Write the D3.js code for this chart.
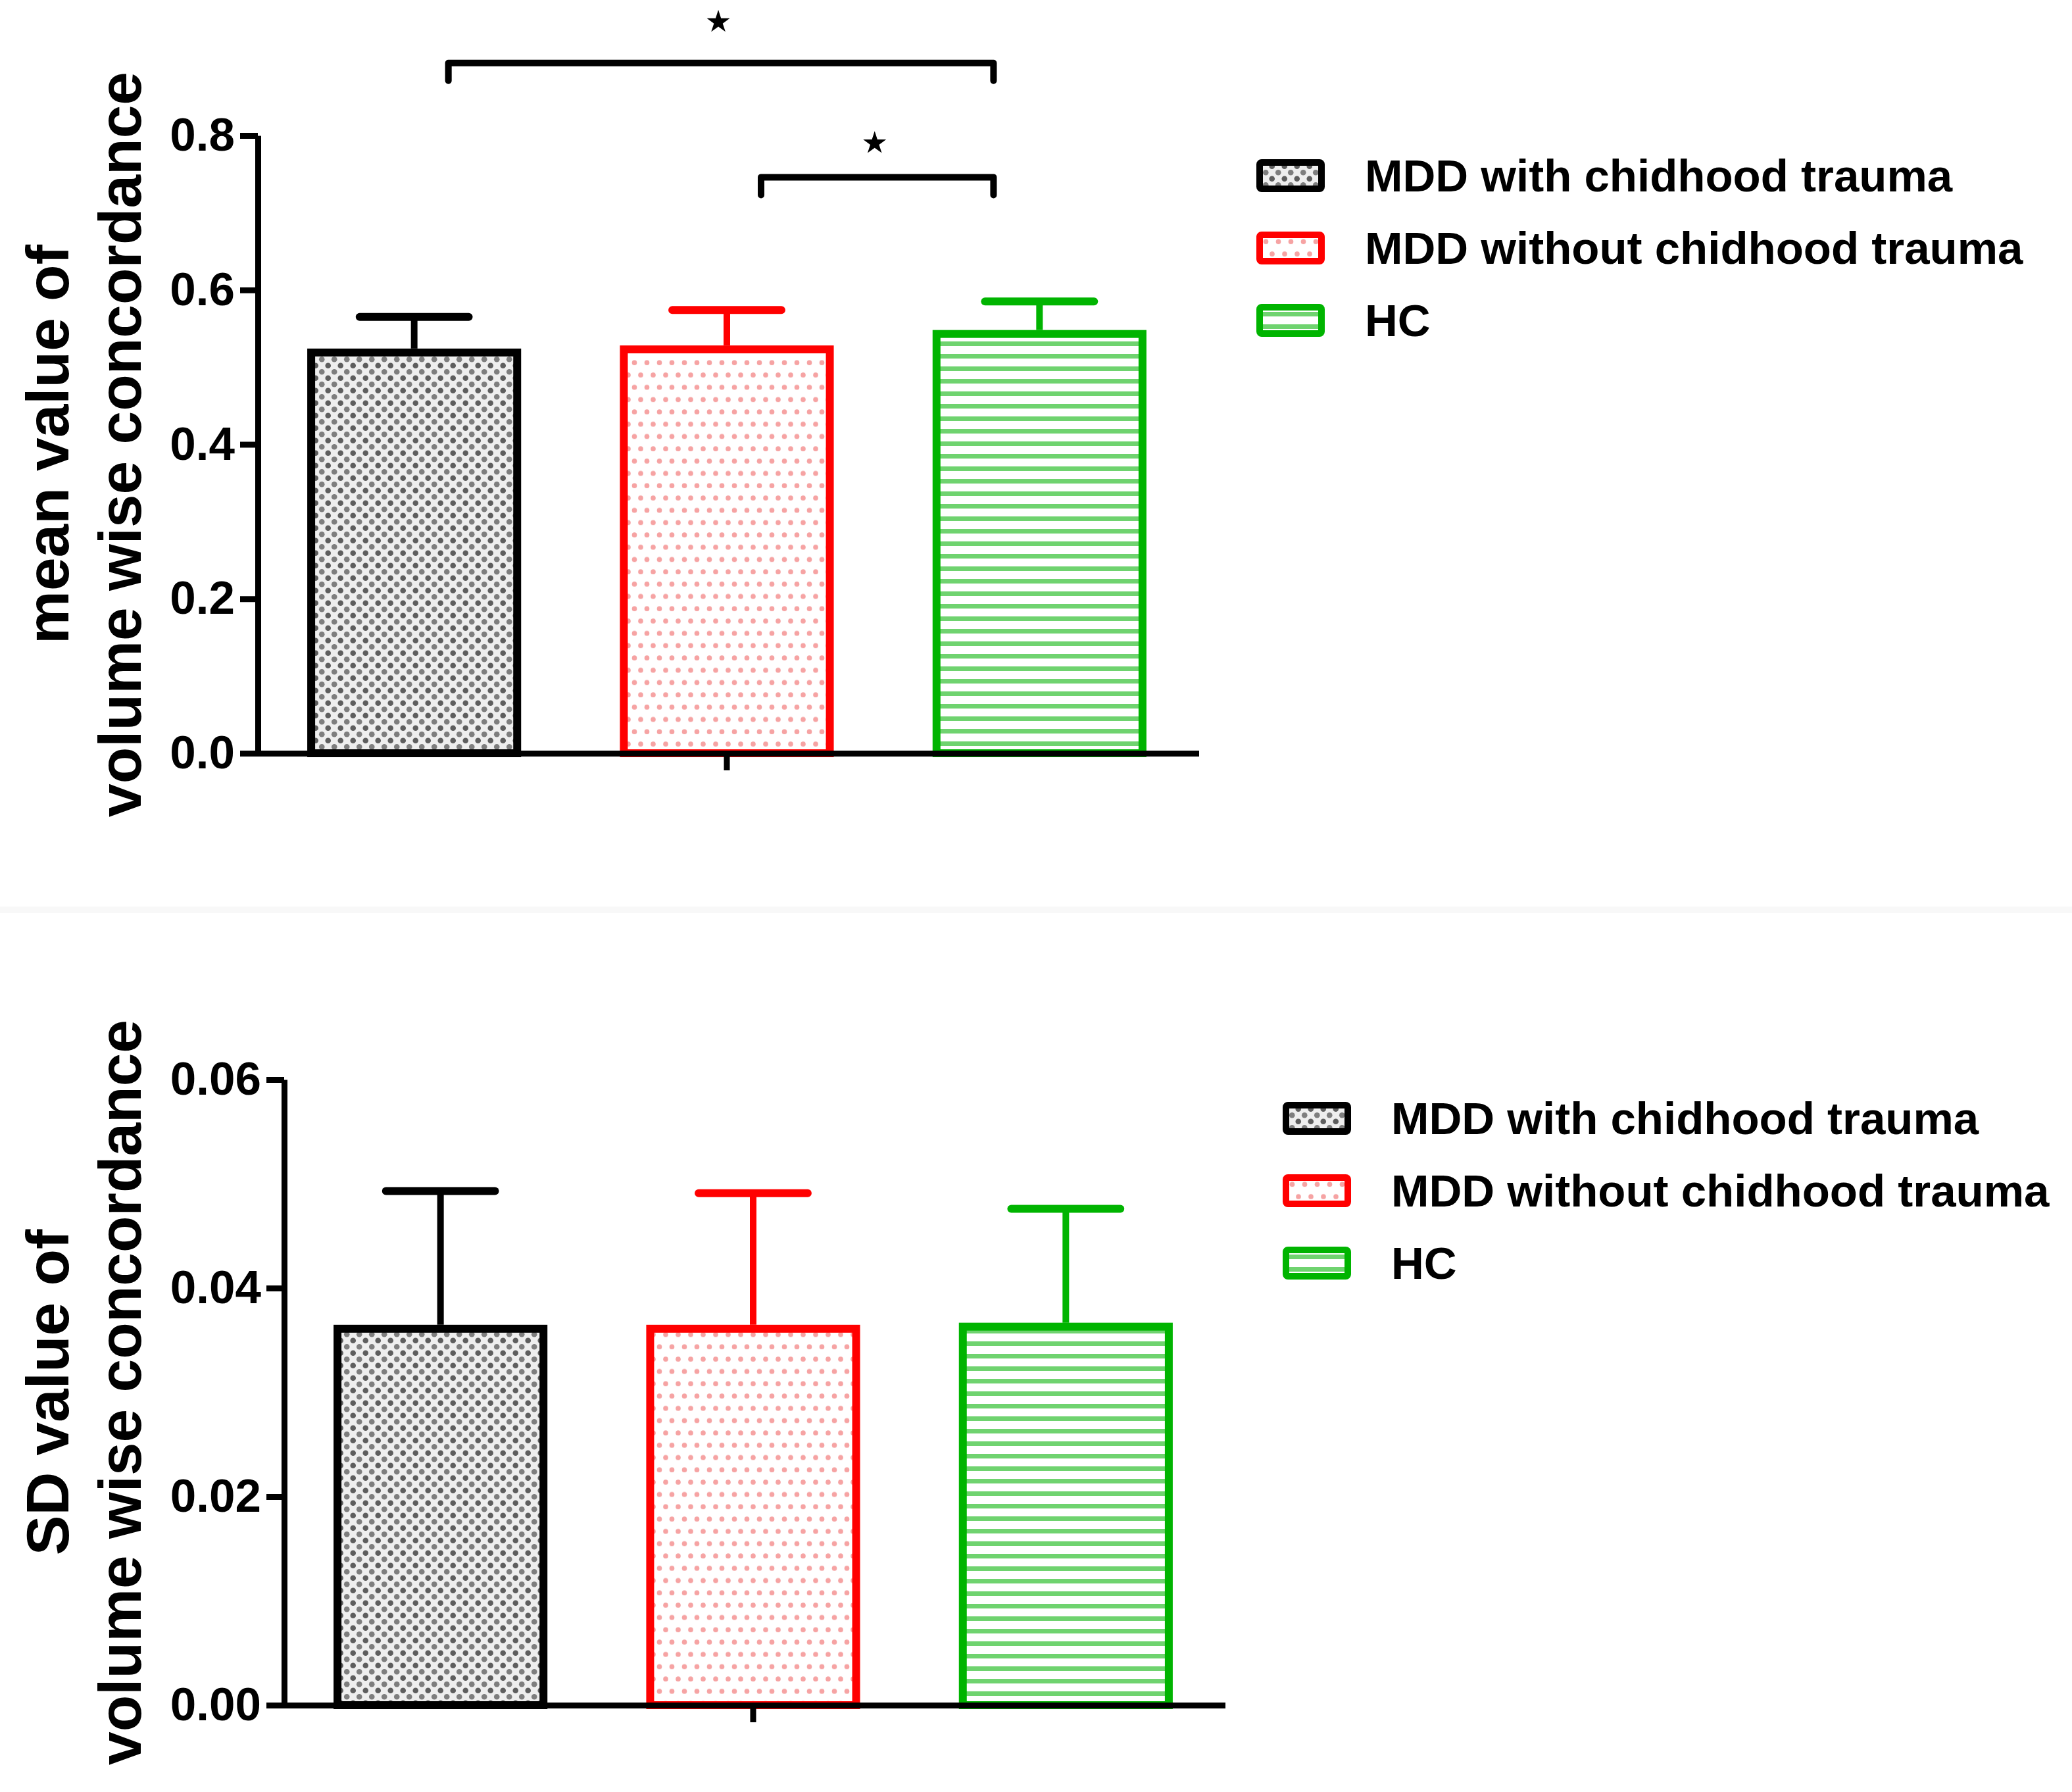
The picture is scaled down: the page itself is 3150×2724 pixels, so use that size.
<!DOCTYPE html>
<html lang="en">
  <head>
    <meta charset="utf-8">
    <title>Volume wise concordance</title>
    <script src="https://d3js.org/d3.v7.min.js"></script>
    <style>
      body { margin: 0; background: white; }
      text { font-family: "Liberation Sans", Arial, sans-serif; font-weight: bold; fill: black; }
    </style>
  </head>
  <body>
    <script type="text/javascript">

      // data
      var groups = ["MDD with chidhood trauma", "MDD without chidhood trauma", "HC"];
      var meanValues = [0.519, 0.523, 0.543];
      var meanErrors = [0.046, 0.051, 0.042];
      var sdValues = [0.0361, 0.0361, 0.0363];
      var sdErrors = [0.0132, 0.0130, 0.0113];
      var meanTicks = [0, 0.2, 0.4, 0.6, 0.8];
      var sdTicks = [0, 0.02, 0.04, 0.06];
      var meanLabel = ["mean value of", "volume wise concordance"];
      var sdLabel = ["SD value of", "volume wise concordance"];
      // significance brackets: group index from / to, bracket height, star height
      var sigFrom = [0, 1];
      var sigTo = [2, 2];
      var sigLevel = [0.894, 0.746];
      var sigStar = [0.947, 0.790];

      var colors = ["#000000", "#ff0000", "#00b400"];
      var fills = ["url(#dotsGray)", "url(#dotsPink)", "url(#stripesGreen)"];

      var w = 3150;
      var h = 2724;

      var svg = d3.select("body")
        .append("svg")
          .attr("width", w)
          .attr("height", h);

      var defs = svg.append("defs");

      var pg = defs.append("pattern")
          .attr("id", "dotsGray")
          .attr("patternUnits", "userSpaceOnUse")
          .attr("width", 19)
          .attr("height", 19);
      pg.append("rect").attr("width", 19).attr("height", 19).attr("fill", "#eeeeee");
      pg.append("circle").attr("cx", 4.75).attr("cy", 4.75).attr("r", 4.3).attr("fill", "#5e5e5e");
      pg.append("circle").attr("cx", 14.25).attr("cy", 14.25).attr("r", 4.3).attr("fill", "#7e7e7e");

      var pp = defs.append("pattern")
          .attr("id", "dotsPink")
          .attr("patternUnits", "userSpaceOnUse")
          .attr("width", 19)
          .attr("height", 37.4);
      pp.append("rect").attr("width", 19).attr("height", 37.4).attr("fill", "white");
      pp.append("circle").attr("cx", 5).attr("cy", 9).attr("r", 3.8).attr("fill", "#f6a3a3");
      pp.append("circle").attr("cx", 14.5).attr("cy", 27.7).attr("r", 3.8).attr("fill", "#f6a3a3");

      var ps = defs.append("pattern")
          .attr("id", "stripesGreen")
          .attr("patternUnits", "userSpaceOnUse")
          .attr("width", 19)
          .attr("height", 19);
      ps.append("rect").attr("width", 19).attr("height", 19).attr("fill", "white");
      ps.append("rect").attr("y", 6).attr("width", 19).attr("height", 7).attr("fill", "#6fd36f");

      // faint separator between the two panels
      svg.append("rect")
          .attr("x", 0)
          .attr("y", 1378)
          .attr("width", w)
          .attr("height", 10)
          .attr("fill", "#f8f8f8");

      function drawPanel(p) {
        var g = svg.append("g");

        var xScale = d3.scaleBand()
            .domain(groups)
            .range([p.left, p.right])
            .paddingInner(0.316)
            .paddingOuter(0.158);

        var yScale = d3.scaleLinear()
            .domain([0, p.max])
            .range([p.bottom, p.top]);

        var bw = xScale.bandwidth();
        var sw = 12;

        // bars
        g.selectAll(".bar")
          .data(groups)
          .enter().append("rect")
            .attr("class", "bar")
            .attr("x", d => xScale(d) + sw / 2)
            .attr("y", (d, i) => yScale(p.values[i]))
            .attr("width", bw - sw)
            .attr("height", (d, i) => yScale(0) - yScale(p.values[i]))
            .attr("fill", (d, i) => fills[i])
            .attr("stroke", (d, i) => colors[i])
            .attr("stroke-width", sw);

        // error bars (upper only)
        g.selectAll(".stem")
          .data(groups)
          .enter().append("line")
            .attr("x1", d => xScale(d) + bw / 2)
            .attr("x2", d => xScale(d) + bw / 2)
            .attr("y1", (d, i) => yScale(p.values[i]) - sw / 2)
            .attr("y2", (d, i) => yScale(p.values[i] + p.errors[i]))
            .attr("stroke", (d, i) => colors[i])
            .attr("stroke-width", 10);

        g.selectAll(".cap")
          .data(groups)
          .enter().append("line")
            .attr("x1", d => xScale(d) + bw * 0.245)
            .attr("x2", d => xScale(d) + bw * 0.755)
            .attr("y1", (d, i) => yScale(p.values[i] + p.errors[i]))
            .attr("y2", (d, i) => yScale(p.values[i] + p.errors[i]))
            .attr("stroke", (d, i) => colors[i])
            .attr("stroke-width", 12)
            .attr("stroke-linecap", "round");

        // axes
        var yAxis = d3.axisLeft(yScale)
            .tickValues(p.ticks)
            .tickFormat(d3.format(p.fmt))
            .tickSize(27)
            .tickSizeOuter(0)
            .tickPadding(8);

        var ya = g.append("g")
            .attr("transform", `translate(${p.left}, 0)`)
            .call(yAxis);

        var xAxis = d3.axisBottom(xScale)
            .tickValues([groups[1]])
            .tickFormat("")
            .tickSize(26)
            .tickSizeOuter(0);

        var xa = g.append("g")
            .attr("transform", `translate(0, ${p.bottom})`)
            .call(xAxis);

        ya.selectAll("path, line").attr("stroke", "black").attr("stroke-width", 9);
        xa.selectAll("path, line").attr("stroke", "black").attr("stroke-width", 9);
        xa.select("path").attr("stroke-linecap", "square");
        ya.selectAll("text")
            .style("font-size", "71px")
            .style("font-family", "'Liberation Sans', Arial, sans-serif")
            .style("font-weight", "bold")
            .attr("fill", "black");

        // y label, two lines
        var yMid = (p.top + p.bottom) / 2;
        g.selectAll(".ylab")
          .data(p.label)
          .enter().append("text")
            .attr("transform", (d, i) => `translate(${[104, 214][i]}, ${yMid}) rotate(-90)`)
            .attr("text-anchor", "middle")
            .style("font-size", "91px")
            .text(d => d);

        // legend
        var lg = g.append("g")
            .attr("transform", `translate(${p.legendX}, ${p.legendY})`);

        var items = lg.selectAll(".item")
          .data(groups)
          .enter().append("g")
            .attr("transform", (d, i) => `translate(0, ${i * 110})`);

        items.append("rect")
            .attr("x", 5)
            .attr("y", -20)
            .attr("width", 94)
            .attr("height", 40)
            .attr("fill", (d, i) => fills[i])
            .attr("stroke", (d, i) => colors[i])
            .attr("stroke-width", 10)
            .attr("rx", 3);

        items.append("text")
            .attr("x", 165)
            .attr("y", 0)
            .attr("dy", "0.35em")
            .style("font-size", "69px")
            .text(d => d);

        // significance brackets
        if (p.sig) {
          var drop = 27;
          for (var k = 0; k < sigFrom.length; k++) {
            var xa1 = xScale(groups[sigFrom[k]]) + bw * 0.66;
            var xa2 = xScale(groups[sigTo[k]]) + bw * 0.285;
            var yb = yScale(sigLevel[k]);
            g.append("path")
                .attr("d", `M${xa1},${yb + drop}V${yb}H${xa2}V${yb + drop}`)
                .attr("fill", "none")
                .attr("stroke", "black")
                .attr("stroke-width", 10)
                .attr("stroke-linejoin", "round")
                .attr("stroke-linecap", "round");
            g.append("path")
                .attr("d", d3.symbol(d3.symbolStar, 380)())
                .attr("transform", `translate(${(xa1 + xa2) / 2 - 4}, ${yScale(sigStar[k])})`)
                .attr("fill", "black");
          }
        }
      }

      drawPanel({
        left: 392, right: 1818, top: 206, bottom: 1145,
        max: 0.8, values: meanValues, errors: meanErrors,
        ticks: meanTicks, fmt: ".1f", label: meanLabel,
        legendX: 1910, legendY: 267, sig: true
      });

      drawPanel({
        left: 432, right: 1858, top: 1641, bottom: 2592,
        max: 0.06, values: sdValues, errors: sdErrors,
        ticks: sdTicks, fmt: ".2f", label: sdLabel,
        legendX: 1950, legendY: 1700, sig: false
      });

    </script>
  </body>
</html>
